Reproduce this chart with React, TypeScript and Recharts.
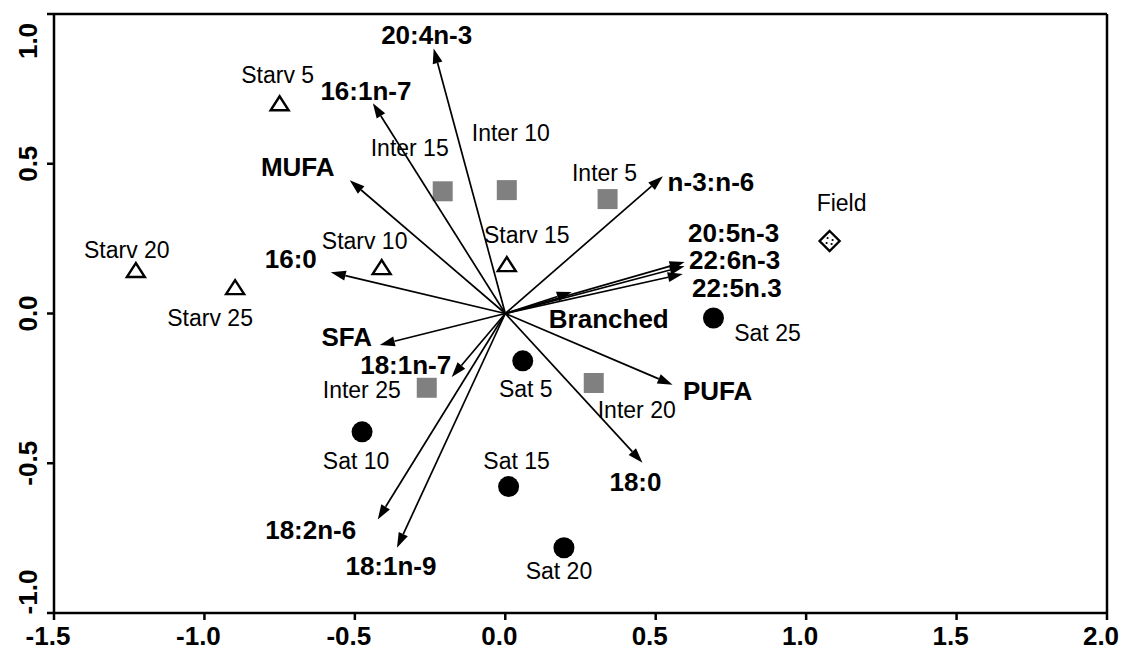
import React from 'react'
import { ScatterChart, Scatter, XAxis, YAxis, ReferenceLine } from 'recharts'

const FONT = '"Liberation Sans", Arial, Helvetica, sans-serif'

// sample scores on the first two axes
const starvNames = ['Starv 5', 'Starv 10', 'Starv 15', 'Starv 20', 'Starv 25']
const starvX = [-0.75, -0.411, 0.005, -1.228, -0.898]
const starvY = [0.702, 0.155, 0.165, 0.145, 0.088]

const interNames = ['Inter 5', 'Inter 10', 'Inter 15', 'Inter 20', 'Inter 25']
const interX = [0.34, 0.005, -0.208, 0.294, -0.261]
const interY = [0.382, 0.412, 0.408, -0.232, -0.248]

const satNames = ['Sat 5', 'Sat 10', 'Sat 15', 'Sat 20', 'Sat 25']
const satX = [0.058, -0.476, 0.011, 0.195, 0.692]
const satY = [-0.158, -0.395, -0.578, -0.782, -0.015]

const fieldNames = ['Field']
const fieldX = [1.078]
const fieldY = [0.242]

// fatty acid loadings (arrows from the origin)
const faNames = [
  '20:4n-3', '16:1n-7', 'MUFA', '16:0', 'SFA', '18:1n-7', '18:2n-6', '18:1n-9',
  '18:0', 'PUFA', 'n-3:n-6', '20:5n-3', '22:6n-3', '22:5n.3', 'Branched',
]
const faX = [-0.238, -0.44, -0.517, -0.58, -0.417, -0.178, -0.424, -0.36, 0.456, 0.556, 0.524, 0.596, 0.596, 0.59, 0.221]
const faY = [0.885, 0.702, 0.445, 0.138, -0.105, -0.212, -0.688, -0.782, -0.498, -0.238, 0.458, 0.172, 0.158, 0.132, 0.072]

const xTicks = [-1.5, -1.0, -0.5, 0.0, 0.5, 1.0, 1.5, 2.0]
const yTicks = [-1.0, -0.5, 0.0, 0.5, 1.0]

// label placement relative to the mark (px)
const labelOffset: Record<string, [number, number]> = {
  'Starv 5': [-2, -28], 'Starv 10': [-17, -26], 'Starv 15': [20, -29], 'Starv 20': [-9, -20], 'Starv 25': [-25, 31],
  'Inter 5': [-3, -26], 'Inter 10': [4, -57], 'Inter 15': [-33, -43], 'Inter 20': [43, 27], 'Inter 25': [-65, 2],
  'Sat 5': [3, 28], 'Sat 10': [-6, 29], 'Sat 15': [8, -26], 'Sat 20': [-5, 23], 'Sat 25': [54, 15],
  Field: [12, -38],
  '20:4n-3': [-7, -13], '16:1n-7': [-7, -12], MUFA: [-52, -13], '16:0': [-40, -13], SFA: [-33, -8],
  '18:1n-7': [-46, -12], '18:2n-6': [-67, 10], '18:1n-9': [-6, 18], '18:0': [-7, 19], PUFA: [45, 6],
  'n-3:n-6': [48, 6], '20:5n-3': [49, -29], '22:6n-3': [50, -6], '22:5n.3': [54, 14], Branched: [37, 27],
}

const toPoints = (names: string[], xs: number[], ys: number[]) =>
  names.map((name, i) => ({ x: xs[i], y: ys[i], name }))

const Label = ({ cx, cy, name, bold }: { cx: number; cy: number; name: string; bold?: boolean }) => {
  const [dx, dy] = labelOffset[name] ?? [0, 0]
  return (
    <text
      x={cx + dx}
      y={cy + dy}
      textAnchor="middle"
      dominantBaseline="central"
      fontFamily={FONT}
      fontSize={bold ? 26 : 23}
      fontWeight={bold ? 'bold' : 'normal'}
      fill="#000"
    >
      {name}
    </text>
  )
}

const TriangleMark = (p: any) => (
  <g>
    <polygon
      points={`${p.cx},${p.cy - 7} ${p.cx - 9},${p.cy + 7} ${p.cx + 9},${p.cy + 7}`}
      fill="#fff"
      stroke="#000"
      strokeWidth={2.4}
      strokeLinejoin="miter"
    />
    <Label cx={p.cx} cy={p.cy} name={p.payload.name} />
  </g>
)

const SquareMark = (p: any) => (
  <g>
    <rect x={p.cx - 10} y={p.cy - 10} width={20} height={20} fill="#808080" />
    <Label cx={p.cx} cy={p.cy} name={p.payload.name} />
  </g>
)

const CircleMark = (p: any) => (
  <g>
    <circle cx={p.cx} cy={p.cy} r={10.5} fill="#000" />
    <Label cx={p.cx} cy={p.cy} name={p.payload.name} />
  </g>
)

const DiamondMark = (p: any) => (
  <g>
    <polygon
      points={`${p.cx},${p.cy - 10} ${p.cx + 10},${p.cy} ${p.cx},${p.cy + 10} ${p.cx - 10},${p.cy}`}
      fill="#fff"
      stroke="#000"
      strokeWidth={2.4}
    />
    <circle cx={p.cx - 2} cy={p.cy - 3} r={1.1} fill="#000" />
    <circle cx={p.cx + 3} cy={p.cy - 1} r={1.1} fill="#000" />
    <circle cx={p.cx - 3} cy={p.cy + 2} r={1.1} fill="#000" />
    <circle cx={p.cx + 2} cy={p.cy + 3} r={1.1} fill="#000" />
    <Label cx={p.cx} cy={p.cy} name={p.payload.name} />
  </g>
)

// only the arrow tip gets a label; the origin point draws nothing
const VectorTip = (p: any) =>
  p.payload.name ? <Label cx={p.cx} cy={p.cy} name={p.payload.name} bold /> : <g />

const ArrowLine = (props: any) => {
  const pts = props.points || []
  if (pts.length < 2) return null
  const a = pts[0]
  const b = pts[pts.length - 1]
  const x0 = a.x ?? a.cx
  const y0 = a.y ?? a.cy
  const x1 = b.x ?? b.cx
  const y1 = b.y ?? b.cy
  const len = Math.hypot(x1 - x0, y1 - y0) || 1
  const ux = (x1 - x0) / len
  const uy = (y1 - y0) / len
  const head = Math.min(15, len * 0.6)
  const half = 5
  const bx = x1 - ux * head
  const by = y1 - uy * head
  return (
    <g>
      <line x1={x0} y1={y0} x2={bx} y2={by} stroke="#000" strokeWidth={1.7} />
      <polygon
        points={`${x1},${y1} ${bx - uy * half},${by + ux * half} ${bx + uy * half},${by - ux * half}`}
        fill="#000"
      />
    </g>
  )
}

const XTick = ({ x, y, payload }: any) => (
  <text
    x={x - 6}
    y={y + 14}
    textAnchor="middle"
    dominantBaseline="central"
    fontFamily={FONT}
    fontSize={26}
    fontWeight="bold"
    fill="#000"
  >
    {payload.value.toFixed(1)}
  </text>
)

const YTick = ({ x, y, payload }: any) => {
  const shift = payload.value === 1 ? 27 : payload.value === -1 ? -21 : 0
  const cx = x - 17
  const cy = y + shift
  return (
    <text
      x={cx}
      y={cy}
      transform={`rotate(-90 ${cx} ${cy})`}
      textAnchor="middle"
      dominantBaseline="central"
      fontFamily={FONT}
      fontSize={26}
      fontWeight="bold"
      fill="#000"
    >
      {payload.value.toFixed(1)}
    </text>
  )
}

export default function App() {
  const axisLine = { stroke: '#000', strokeWidth: 2.5 }
  return (
    <div style={{ position: 'absolute', left: 0, top: 0, background: '#fff' }}>
      <ScatterChart width={1127} height={654} margin={{ top: 14, right: 20, bottom: 0, left: 0 }}>
        <XAxis
          type="number"
          dataKey="x"
          domain={[-1.5, 2]}
          ticks={xTicks}
          allowDataOverflow
          height={41}
          tickSize={7}
          axisLine={axisLine}
          tickLine={axisLine}
          tick={<XTick />}
        />
        <YAxis
          type="number"
          dataKey="y"
          domain={[-1, 1]}
          ticks={yTicks}
          allowDataOverflow
          width={54}
          tickSize={7}
          axisLine={axisLine}
          tickLine={axisLine}
          tick={<YTick />}
        />
        <ReferenceLine y={1} stroke="#000" strokeWidth={2.5} />
        <ReferenceLine x={2} stroke="#000" strokeWidth={2.5} />

        <Scatter data={toPoints(starvNames, starvX, starvY)} shape={TriangleMark} isAnimationActive={false} />
        <Scatter data={toPoints(interNames, interX, interY)} shape={SquareMark} isAnimationActive={false} />
        <Scatter data={toPoints(satNames, satX, satY)} shape={CircleMark} isAnimationActive={false} />
        <Scatter data={toPoints(fieldNames, fieldX, fieldY)} shape={DiamondMark} isAnimationActive={false} />

        {faNames.map((name, i) => (
          <Scatter
            key={name}
            data={[{ x: 0, y: 0, name: '' }, { x: faX[i], y: faY[i], name }]}
            line={ArrowLine}
            lineType="joint"
            shape={VectorTip}
            isAnimationActive={false}
          />
        ))}
      </ScatterChart>
    </div>
  )
}
